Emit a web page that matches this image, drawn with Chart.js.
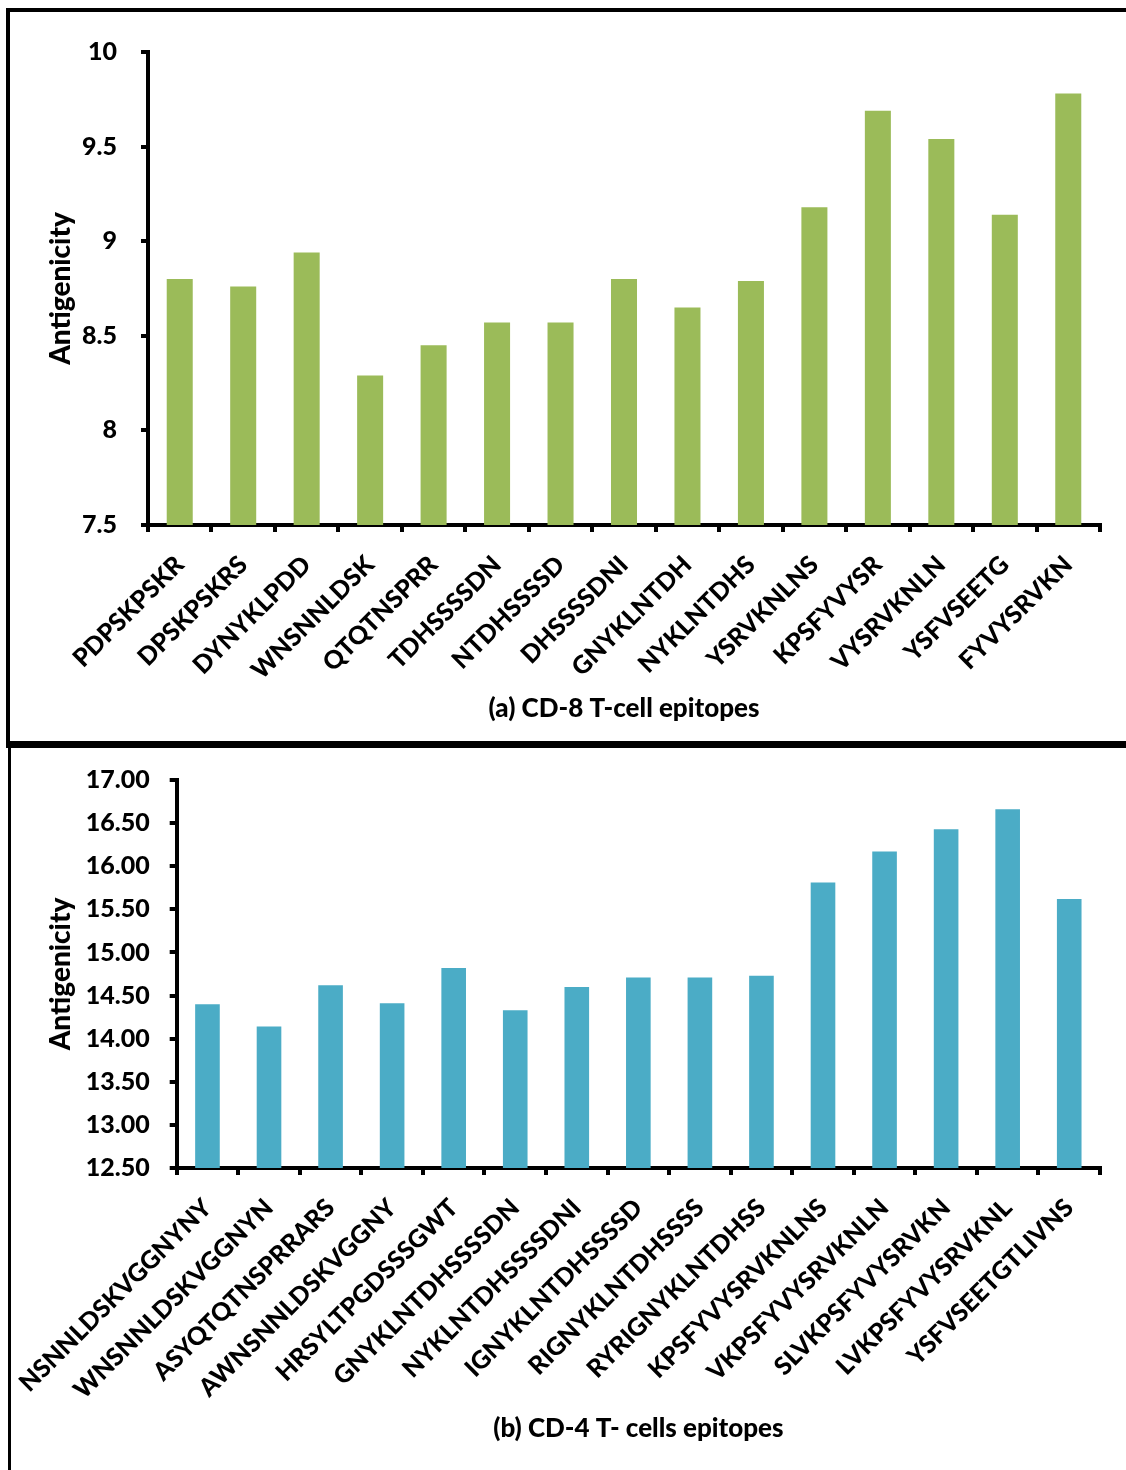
<!DOCTYPE html>
<html>
<head>
<meta charset="utf-8">
<title>Antigenicity of T-cell epitopes</title>
<script src="https://cdn.jsdelivr.net/npm/chart.js@4.4.1/dist/chart.umd.min.js"></script>
<style>
  html, body { margin: 0; padding: 0; background: #fff; overflow: hidden; width: 1126px; height: 1470px; }
  .panel { position: absolute; left: 0; width: 1126px; }
  #panelA { top: 0; height: 745px; }
  #panelB { top: 745px; height: 725px; }
  .frame { position: absolute; border: solid #000; box-sizing: border-box; pointer-events: none; }
  #frameA { left: 6px; top: 8px; width: 1200px; height: 740px; border-width: 4px 4px 5px 4px; }
  #frameB { left: 8px; top: 741px; width: 1200px; height: 800px; border-width: 5px 4px 4px 3px; }
</style>
</head>
<body>
<div class="panel" id="panelA"><canvas id="cd8"></canvas></div>
<div class="panel" id="panelB"><canvas id="cd4"></canvas></div>
<div class="frame" id="frameA"></div>
<div class="frame" id="frameB"></div>
<script>
// (a) CD-8 T-cell epitopes
const cd8Epitopes = ['PDPSKPSKR', 'DPSKPSKRS', 'DYNYKLPDD', 'WNSNNLDSK', 'QTQTNSPRR', 'TDHSSSSDN',
  'NTDHSSSSD', 'DHSSSSDNI', 'GNYKLNTDH', 'NYKLNTDHS', 'YSRVKNLNS', 'KPSFYVYSR', 'VYSRVKNLN',
  'YSFVSEETG', 'FYVYSRVKN'];
const cd8Antigenicity = [8.80, 8.76, 8.94, 8.29, 8.45, 8.57, 8.57, 8.80, 8.65, 8.79, 9.18, 9.69, 9.54, 9.14, 9.78];
const cd8Ticks = [7.5, 8, 8.5, 9, 9.5, 10];
const cd8TickLabels = ['7.5', '8', '8.5', '9', '9.5', '10'];

// (b) CD-4 T-cell epitopes
const cd4Epitopes = ['NSNNLDSKVGGNYNY', 'WNSNNLDSKVGGNYN', 'ASYQTQTNSPRRARS', 'AWNSNNLDSKVGGNY',
  'HRSYLTPGDSSSGWT', 'GNYKLNTDHSSSSDN', 'NYKLNTDHSSSSDNI', 'IGNYKLNTDHSSSSD', 'RIGNYKLNTDHSSSS',
  'RYRIGNYKLNTDHSS', 'KPSFYVYSRVKNLNS', 'VKPSFYVYSRVKNLN', 'SLVKPSFYVYSRVKN', 'LVKPSFYVYSRVKNL',
  'YSFVSEETGTLIVNS'];
const cd4Antigenicity = [14.40, 14.14, 14.62, 14.41, 14.82, 14.33, 14.60, 14.71, 14.71, 14.73, 15.81, 16.17, 16.43, 16.66, 15.62];
const cd4Ticks = [12.5, 13, 13.5, 14, 14.5, 15, 15.5, 16, 16.5, 17];
const cd4TickLabels = ['12.50', '13.00', '13.50', '14.00', '14.50', '15.00', '15.50', '16.00', '16.50', '17.00'];

Chart.defaults.font.family = "Lato, 'Open Sans', sans-serif";
Chart.defaults.color = '#000';

const HEAVY = 900;

function epitopeChart(canvasId, w, h, cfg) {
  const canvas = document.getElementById(canvasId);
  canvas.style.width = w + 'px';
  canvas.style.height = h + 'px';
  canvas.width = w;
  canvas.height = h;
  const axisLine = { display: true, color: '#000', width: 4 };
  const gridTicks = { display: true, drawOnChartArea: false, drawTicks: true, tickLength: 7,
    tickWidth: 4, tickColor: '#000', color: '#000', lineWidth: 4 };
  return new Chart(canvas, {
    type: 'bar',
    data: {
      labels: cfg.labels,
      datasets: [{
        data: cfg.values,
        backgroundColor: cfg.color,
        borderWidth: 0,
        categoryPercentage: 1,
        barPercentage: cfg.barFrac
      }]
    },
    options: {
      responsive: false,
      animation: false,
      devicePixelRatio: 1,
      layout: { padding: cfg.padding },
      plugins: { legend: { display: false }, tooltip: { enabled: false } },
      scales: {
        x: {
          border: axisLine,
          grid: gridTicks,
          ticks: { autoSkip: false, maxRotation: 45, minRotation: 45, padding: 18,
            font: { size: cfg.labelSize, weight: HEAVY } },
          title: { display: true, text: cfg.title, padding: 0, font: { size: 26, weight: HEAVY } },
          afterFit: (s) => { s.height = cfg.xHeight; }
        },
        y: {
          min: cfg.ticks[0],
          max: cfg.ticks[cfg.ticks.length - 1],
          border: axisLine,
          grid: gridTicks,
          afterBuildTicks: (s) => { s.ticks = cfg.ticks.map(v => ({ value: v })); },
          ticks: {
            padding: cfg.tickPad,
            font: { size: 25, weight: HEAVY },
            callback: (v) => cfg.tickLabels[cfg.ticks.indexOf(v)]
          },
          title: { display: true, text: 'Antigenicity', padding: 0, font: { size: 28, weight: HEAVY } },
          afterFit: (s) => { s.width = cfg.yWidth; }
        }
      }
    }
  });
}

epitopeChart('cd8', 1126, 745, {
  labels: cd8Epitopes, values: cd8Antigenicity, ticks: cd8Ticks, tickLabels: cd8TickLabels,
  color: '#9BBB59', barFrac: 0.41, labelSize: 25, tickPad: 24,
  title: '(a) CD-8 T-cell epitopes',
  padding: { left: 44, right: 26, top: 52, bottom: 21 },
  yWidth: 104, xHeight: 199
});

epitopeChart('cd4', 1126, 725, {
  labels: cd4Epitopes, values: cd4Antigenicity, ticks: cd4Ticks, tickLabels: cd4TickLabels,
  color: '#4BACC6', barFrac: 0.40, labelSize: 25, tickPad: 20,
  title: '(b) CD-4 T- cells epitopes',
  padding: { left: 41, right: 26, top: 33, bottom: 26 },
  yWidth: 133, xHeight: 276
});
</script>
</body>
</html>
